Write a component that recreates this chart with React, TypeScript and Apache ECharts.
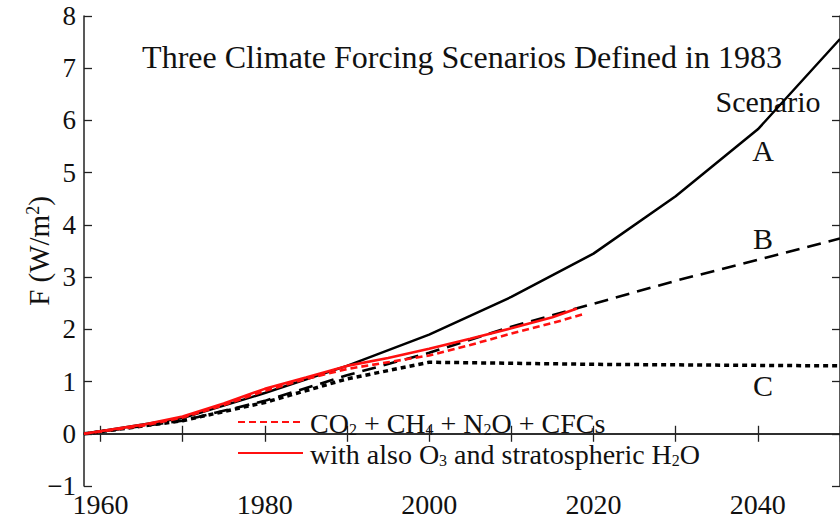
import React, { useEffect, useRef } from "react";
import * as echarts from "echarts";

const SERIF = "'Liberation Serif', 'Times New Roman', serif";

const yearsA = [1958, 1960, 1970, 1980, 1990, 2000, 2010, 2020, 2030, 2040, 2050];
const valuesA = [0, 0.05, 0.3, 0.78, 1.3, 1.9, 2.62, 3.45, 4.55, 5.83, 7.56];
const yearsB = [1958, 1960, 1970, 1980, 1990, 2000, 2010, 2020, 2030, 2040, 2050];
const valuesB = [0, 0.04, 0.25, 0.63, 1.12, 1.55, 2.05, 2.49, 2.93, 3.33, 3.74];
const yearsC = [1958, 1960, 1970, 1980, 1990, 2000, 2010, 2020, 2030, 2040, 2050];
const valuesC = [0, 0.04, 0.25, 0.6, 1.05, 1.37, 1.35, 1.33, 1.32, 1.31, 1.3];
const yearsGhg = [1958, 1965, 1970, 1975, 1980, 1985, 1990, 1995, 2000, 2005, 2010, 2015, 2019];
const valuesGhg = [0, 0.15, 0.31, 0.55, 0.82, 1.05, 1.24, 1.37, 1.5, 1.7, 1.92, 2.12, 2.3];
const yearsAll = [1958, 1965, 1970, 1975, 1980, 1985, 1990, 1995, 2000, 2005, 2010, 2015, 2018];
const valuesAll = [0, 0.17, 0.33, 0.58, 0.86, 1.08, 1.3, 1.45, 1.63, 1.82, 2.02, 2.23, 2.4];

const xTickYears = [1960, 1970, 1980, 1990, 2000, 2010, 2020, 2030, 2040, 2050];
const xLabelYears = [1960, 1980, 2000, 2020, 2040];

const legendGhg = "{n|CO}{s|2}{n| + CH}{s|4}{n| + N}{s|2}{n|O + CFCs}";
const legendAll = "{n|with also O}{s|3}{n| and stratospheric H}{s|2}{n|O}";
const scenarioLabels = ["A", "B", "C"];

const zip = (xs: number[], ys: number[]) => xs.map((x, i) => [x, ys[i]]);

export default function App() {
  const ref = useRef<HTMLDivElement>(null);
  useEffect(() => {
    if (!ref.current) return;
    const chart = echarts.init(ref.current, null, { renderer: "svg" });
    const axisLine = { show: true, lineStyle: { color: "#222", width: 1.5 } };
    const tickStyle = { color: "#222", width: 1.3 };
    const rich = {
      n: { fontFamily: SERIF, fontSize: 28, color: "#111", lineHeight: 30, verticalAlign: "bottom" },
      s: { fontFamily: SERIF, fontSize: 16, color: "#111", lineHeight: 18, verticalAlign: "bottom" },
    };
    const labelX = 763;
    const labelFont = `30px ${SERIF}`;
    chart.setOption({
      animation: false,
      grid: { left: 84, top: 16, width: 758, height: 470, containLabel: false },
      xAxis: [
        {
          type: "value", min: 1958, max: 2050, position: "bottom",
          axisLine,
          splitLine: { show: false },
          axisTick: { show: true, inside: true, length: 8, customValues: xTickYears, lineStyle: tickStyle },
          axisLabel: { customValues: xLabelYears, fontFamily: SERIF, fontSize: 28, color: "#111", margin: 4, formatter: (v: number) => String(v) },
        },
        {
          type: "value", min: 1958, max: 2050, position: "top",
          axisLine,
          splitLine: { show: false },
          axisTick: { show: true, inside: true, length: 8, customValues: xTickYears, lineStyle: tickStyle },
          axisLabel: { show: false },
        },
      ],
      yAxis: [
        {
          type: "value", min: -1, max: 8, interval: 1, position: "left",
          axisLine,
          splitLine: { show: false },
          axisTick: { show: true, inside: true, length: 8, lineStyle: tickStyle },
          axisLabel: {
            fontFamily: SERIF, fontSize: 27, color: "#111", margin: 8,
            formatter: (v: number) => (v < 0 ? "\u2212" + Math.abs(v) : String(v)),
          },
          name: "F (W/m{sup|2})",
          nameLocation: "middle",
          nameGap: 30,
          nameRotate: 90,
          nameMoveOverlap: false,
          nameTextStyle: {
            rich: {
              sup: { fontFamily: SERIF, fontSize: 18, color: "#111", lineHeight: 14, verticalAlign: "top" },
            },
            fontFamily: SERIF, fontSize: 29, color: "#111", lineHeight: 30,
          },
        },
        {
          type: "value", min: -1, max: 8, interval: 1, position: "right",
          axisLine,
          splitLine: { show: false },
          axisTick: { show: true, inside: true, length: 8, lineStyle: tickStyle },
          axisLabel: { show: false },
        },
      ],
      legend: {
        orient: "vertical", left: 237, top: 409, padding: 0, itemWidth: 65, itemHeight: 12, itemGap: 3,
        data: ["ghg", "all"],
        itemStyle: { opacity: 0, borderWidth: 0 },
        formatter: (name: string) => (name === "ghg" ? legendGhg : legendAll),
        textStyle: { rich, padding: [0, 0, 0, 2] },
      },
      series: [
        { name: "A", type: "line", data: zip(yearsA, valuesA), symbol: "none", lineStyle: { color: "#000", width: 2.5, type: "solid" }, z: 2 },
        { name: "B", type: "line", data: zip(yearsB, valuesB), symbol: "none", lineStyle: { color: "#000", width: 2.6, type: [14, 8] }, z: 2 },
        { name: "C", type: "line", data: zip(yearsC, valuesC), symbol: "none", lineStyle: { color: "#000", width: 3.5, type: [5, 4] }, z: 2 },
        { name: "ghg", type: "line", data: zip(yearsGhg, valuesGhg), symbol: "none", itemStyle: { color: "#ff1010" }, lineStyle: { color: "#ff1010", width: 2.6, type: [7, 4] }, z: 3 },
        { name: "all", type: "line", data: zip(yearsAll, valuesAll), symbol: "none", itemStyle: { color: "#ff1010" }, lineStyle: { color: "#ff1010", width: 2.6, type: "solid" }, z: 3 },
      ],
      graphic: [
        { type: "text", x: 462, y: 57, style: { text: "Three Climate Forcing Scenarios Defined in 1983", font: `32px ${SERIF}`, fill: "#111", textAlign: "center", textVerticalAlign: "middle" } },
        { type: "text", x: 768, y: 101, style: { text: "Scenario", font: labelFont, fill: "#111", textAlign: "center", textVerticalAlign: "middle" } },
        { type: "text", x: labelX, y: 150, style: { text: scenarioLabels[0], font: labelFont, fill: "#111", textAlign: "center", textVerticalAlign: "middle" } },
        { type: "text", x: labelX, y: 238, style: { text: scenarioLabels[1], font: labelFont, fill: "#111", textAlign: "center", textVerticalAlign: "middle" } },
        { type: "text", x: labelX, y: 385, style: { text: scenarioLabels[2], font: labelFont, fill: "#111", textAlign: "center", textVerticalAlign: "middle" } },
      ],
    });
    return () => chart.dispose();
  }, []);
  return <div ref={ref} style={{ width: 840, height: 520, position: "absolute", left: 0, top: 0 }} />;
}
